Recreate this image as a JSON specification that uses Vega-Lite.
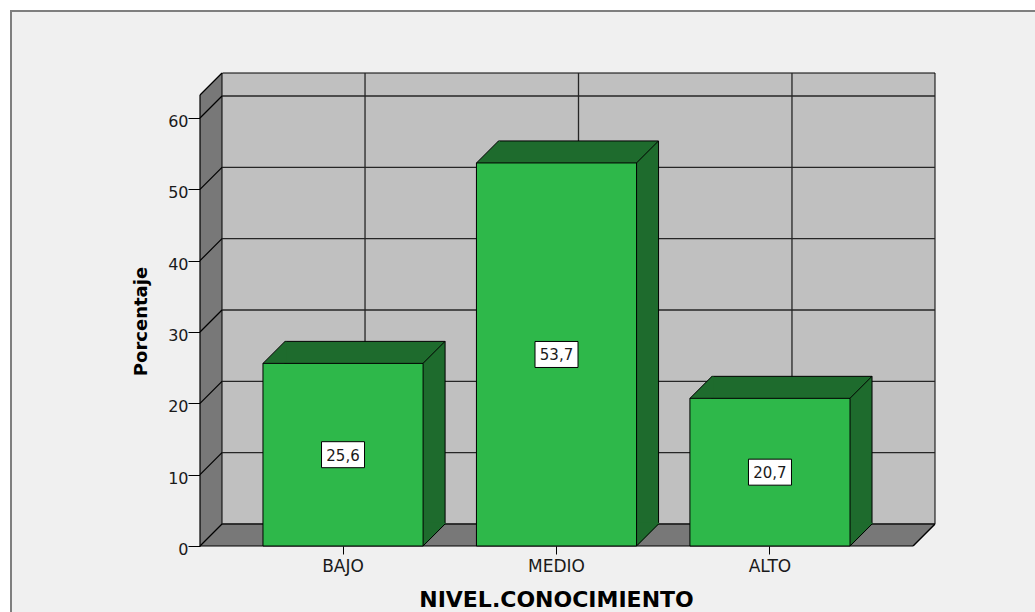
{
  "$schema": "https://vega.github.io/schema/vega-lite/v6.json",
  "width": 735,
  "height": 473,
  "autosize": {"type": "none"},
  "padding": {"left": 200, "top": 73, "right": 100, "bottom": 66},
  "background": "#f0f0f0",
  "config": {
    "view": {"stroke": null},
    "axis": {"grid": false, "domain": false, "tickColor": "black", "tickWidth": 1,
      "labelFont": "DejaVu Sans", "labelColor": "#1a1a1a", "titleFont": "DejaVu Sans", "titleFontWeight": "bold", "titleColor": "black"},
    "axisX": {"labelAngle": 0, "tickSize": 8, "labelFontSize": 17, "labelBaseline": "alphabetic", "labelPadding": 17.5,
      "titleFontSize": 22, "titleX": 356, "titleY": 60, "titleBaseline": "alphabetic", "titleAlign": "center"},
    "axisY": {"tickSize": 12, "labelPadding": 0, "labelFontSize": 16, "labelBaseline": "alphabetic", "labelOffset": 8.5, "labelFlush": false,
      "titleFontSize": 18, "titleX": -54, "titleY": 248, "titleAngle": -90, "titleBaseline": "alphabetic", "titleAlign": "center"}
  },
  "datasets": {
    "bars": [
      {"cat": "BAJO", "value": 25.6, "label": "25,6"},
      {"cat": "MEDIO", "value": 53.7, "label": "53,7"},
      {"cat": "ALTO", "value": 20.7, "label": "20,7"}
    ],
    "ticks": [{"t": 0}, {"t": 10}, {"t": 20}, {"t": 30}, {"t": 40}, {"t": 50}, {"t": 60}],
    "one": [{"k": 1}]
  },
  "layer": [
    {
      "layer": [
        {
          "data": {"name": "one"},
          "mark": {"type": "rule", "color": "white", "strokeWidth": 10, "xOffset": -195, "yOffset": -73, "y2Offset": 66},
          "encoding": {"x": {"value": 0}, "y": {"value": 0}, "y2": {"value": "height"}}
        },
        {
          "data": {"name": "one"},
          "mark": {"type": "rule", "color": "white", "strokeWidth": 11, "yOffset": -67.5, "xOffset": -200, "x2Offset": 100},
          "encoding": {"y": {"value": 0}, "x": {"value": 0}, "x2": {"value": "width"}}
        },
        {
          "data": {"name": "one"},
          "mark": {"type": "rule", "color": "#7f7f7f", "strokeWidth": 2, "xOffset": -189, "yOffset": -63, "y2Offset": 66},
          "encoding": {"x": {"value": 0}, "y": {"value": 0}, "y2": {"value": "height"}}
        },
        {
          "data": {"name": "one"},
          "mark": {"type": "rule", "color": "#7f7f7f", "strokeWidth": 2, "yOffset": -62, "xOffset": -190, "x2Offset": 100},
          "encoding": {"y": {"value": 0}, "x": {"value": 0}, "x2": {"value": "width"}}
        },
        {
          "data": {"name": "one"},
          "mark": {"type": "rule", "color": "#787878", "strokeWidth": 22, "xOffset": 11},
          "encoding": {"x": {"value": 0}, "y": {"value": 0}, "y2": {"value": "height"}}
        },
        {
          "data": {"name": "one"},
          "mark": {"type": "rule", "color": "#787878", "strokeWidth": 22, "yOffset": -11},
          "encoding": {"y": {"value": "height"}, "x": {"value": 0}, "x2": {"value": "width"}}
        },
        {
          "data": {"name": "one"},
          "mark": {"type": "rect", "fill": "#c0c0c0", "stroke": "black", "strokeWidth": 1, "xOffset": 22, "y2Offset": -22},
          "encoding": {"x": {"value": 0}, "x2": {"value": "width"}, "y": {"value": 0}, "y2": {"value": "height"}}
        },
        {
          "data": {"name": "ticks"},
          "mark": {"type": "rule", "color": "#262626", "strokeWidth": 1.3, "xOffset": 22, "yOffset": -22},
          "encoding": {
            "x": {"value": 0}, "x2": {"value": "width"},
            "y": {"field": "t", "type": "quantitative", "scale": {"domain": [0, 60], "range": [473, 45], "nice": false}, "axis": {"title": "Porcentaje", "values": [0, 10, 20, 30, 40, 50, 60]}}
          }
        },
        {
          "data": {"name": "bars"},
          "mark": {"type": "rule", "color": "#262626", "strokeWidth": 1.3, "xOffset": 22, "y2Offset": -22},
          "encoding": {
            "x": {"field": "cat", "type": "nominal", "sort": ["BAJO", "MEDIO", "ALTO"], "scale": {"type": "band", "range": [0, 713], "paddingInner": 0.25, "paddingOuter": 0.295}, "axis": {"title": "NIVEL.CONOCIMIENTO"}},
            "y": {"value": 0}, "y2": {"value": "height"}
          }
        },
        {
          "data": {"name": "one"},
          "mark": {"type": "point", "shape": "M0,-1L23,-1L0,22Z", "size": 4, "filled": true, "fill": "#f0f0f0", "strokeWidth": 0, "opacity": 1},
          "encoding": {"x": {"value": 0}, "y": {"value": 0}}
        },
        {
          "data": {"name": "one"},
          "mark": {"type": "point", "shape": "M1,1L1,-22L-22,1Z", "size": 4, "filled": true, "fill": "#f0f0f0", "strokeWidth": 0, "opacity": 1},
          "encoding": {"x": {"value": "width"}, "y": {"value": "height"}}
        },
        {
          "data": {"name": "ticks"},
          "mark": {"type": "point", "shape": "M0,0L22,-22", "size": 4, "filled": false, "stroke": "black", "strokeWidth": 1.2, "opacity": 1},
          "encoding": {
            "x": {"value": 0},
            "y": {"field": "t", "type": "quantitative", "scale": {"domain": [0, 60], "range": [473, 45], "nice": false}, "axis": {"title": "Porcentaje", "values": [0, 10, 20, 30, 40, 50, 60]}}
          }
        },
        {
          "data": {"name": "one"},
          "mark": {"type": "point", "shape": "M0,22L22,0", "size": 4, "filled": false, "stroke": "black", "strokeWidth": 1.2, "opacity": 1},
          "encoding": {"x": {"value": 0}, "y": {"value": 0}}
        },
        {
          "data": {"name": "one"},
          "mark": {"type": "rule", "color": "black", "strokeWidth": 1.2, "yOffset": 22},
          "encoding": {"x": {"value": 0}, "y": {"value": 0}, "y2": {"value": "height"}}
        },
        {
          "data": {"name": "one"},
          "mark": {"type": "rule", "color": "black", "strokeWidth": 1.2, "x2Offset": -22},
          "encoding": {"y": {"value": "height"}, "x": {"value": 0}, "x2": {"value": "width"}}
        },
        {
          "data": {"name": "one"},
          "mark": {"type": "point", "shape": "M-22,0L0,-22", "size": 4, "filled": false, "stroke": "black", "strokeWidth": 1.2, "opacity": 1},
          "encoding": {"x": {"value": "width"}, "y": {"value": "height"}}
        },
        {
          "data": {"name": "bars"},
          "mark": {"type": "bar", "fill": "#1e6b2d", "stroke": "black", "strokeWidth": 1, "xOffset": 22, "x2Offset": 22, "yOffset": -22, "y2Offset": -22},
          "encoding": {
            "x": {"field": "cat", "type": "nominal", "sort": ["BAJO", "MEDIO", "ALTO"], "scale": {"type": "band", "range": [0, 713], "paddingInner": 0.25, "paddingOuter": 0.295}, "axis": {"title": "NIVEL.CONOCIMIENTO"}},
            "y": {"field": "value", "type": "quantitative", "scale": {"domain": [0, 60], "range": [473, 45], "nice": false}, "axis": {"title": "Porcentaje", "values": [0, 10, 20, 30, 40, 50, 60]}}
          }
        },
        {
          "data": {"name": "bars"},
          "mark": {"type": "point", "shape": "M-80,0L-58,-22L-56.5,-22L-56.5,0Z", "size": 4, "filled": true, "fill": "#1e6b2d", "strokeWidth": 0, "opacity": 1},
          "encoding": {
            "x": {"field": "cat", "type": "nominal", "sort": ["BAJO", "MEDIO", "ALTO"], "scale": {"type": "band", "range": [0, 713], "paddingInner": 0.25, "paddingOuter": 0.295}, "axis": {"title": "NIVEL.CONOCIMIENTO"}},
            "y": {"field": "value", "type": "quantitative", "scale": {"domain": [0, 60], "range": [473, 45], "nice": false}, "axis": {"title": "Porcentaje", "values": [0, 10, 20, 30, 40, 50, 60]}}
          }
        },
        {
          "data": {"name": "bars"},
          "mark": {"type": "point", "shape": "M80,0.5L102.5,-22L102.5,-23.2L80,-23.2Z", "size": 4, "filled": true, "fill": "#1e6b2d", "strokeWidth": 0, "opacity": 1},
          "encoding": {
            "x": {"field": "cat", "type": "nominal", "sort": ["BAJO", "MEDIO", "ALTO"], "scale": {"type": "band", "range": [0, 713], "paddingInner": 0.25, "paddingOuter": 0.295}, "axis": {"title": "NIVEL.CONOCIMIENTO"}},
            "y": {"value": "height"}
          }
        },
        {
          "data": {"name": "bars"},
          "mark": {"type": "bar", "fill": "#2eb84a", "stroke": "black", "strokeWidth": 1},
          "encoding": {
            "x": {"field": "cat", "type": "nominal", "sort": ["BAJO", "MEDIO", "ALTO"], "scale": {"type": "band", "range": [0, 713], "paddingInner": 0.25, "paddingOuter": 0.295}, "axis": {"title": "NIVEL.CONOCIMIENTO"}},
            "y": {"field": "value", "type": "quantitative", "scale": {"domain": [0, 60], "range": [473, 45], "nice": false}, "axis": {"title": "Porcentaje", "values": [0, 10, 20, 30, 40, 50, 60]}}
          }
        },
        {
          "data": {"name": "bars"},
          "mark": {"type": "point", "shape": "M-80,0L-58,-22M80,0L102,-22", "size": 4, "filled": false, "stroke": "black", "strokeWidth": 1, "opacity": 1},
          "encoding": {
            "x": {"field": "cat", "type": "nominal", "sort": ["BAJO", "MEDIO", "ALTO"], "scale": {"type": "band", "range": [0, 713], "paddingInner": 0.25, "paddingOuter": 0.295}, "axis": {"title": "NIVEL.CONOCIMIENTO"}},
            "y": {"field": "value", "type": "quantitative", "scale": {"domain": [0, 60], "range": [473, 45], "nice": false}, "axis": {"title": "Porcentaje", "values": [0, 10, 20, 30, 40, 50, 60]}}
          }
        },
        {
          "data": {"name": "bars"},
          "mark": {"type": "point", "shape": "M80,0L102,-22", "size": 4, "filled": false, "stroke": "black", "strokeWidth": 1, "opacity": 1},
          "encoding": {
            "x": {"field": "cat", "type": "nominal", "sort": ["BAJO", "MEDIO", "ALTO"], "scale": {"type": "band", "range": [0, 713], "paddingInner": 0.25, "paddingOuter": 0.295}, "axis": {"title": "NIVEL.CONOCIMIENTO"}},
            "y": {"value": "height"}
          }
        }
      ]
    },
    {
      "data": {"name": "bars"},
      "encoding": {
        "x": {"field": "cat", "type": "nominal", "sort": ["BAJO", "MEDIO", "ALTO"], "scale": {"type": "band", "range": [0, 713], "paddingInner": 0.25, "paddingOuter": 0.295}, "axis": {"title": "NIVEL.CONOCIMIENTO"}},
        "y": {"field": "value", "type": "quantitative", "scale": {"domain": [0, 120], "range": [473, 45], "nice": false}, "axis": null}
      },
      "layer": [
        {"mark": {"type": "point", "shape": "M-21.5,-13H21.5V13H-21.5Z", "size": 4, "filled": true, "fill": "white", "stroke": "black", "strokeWidth": 1, "opacity": 1}},
        {"mark": {"type": "text", "font": "DejaVu Sans", "fontSize": 15, "color": "#1a1a1a", "align": "center", "baseline": "middle", "dy": 1},
         "encoding": {"text": {"field": "label"}}}
      ]
    }
  ],
  "resolve": {"scale": {"y": "independent"}}
}
